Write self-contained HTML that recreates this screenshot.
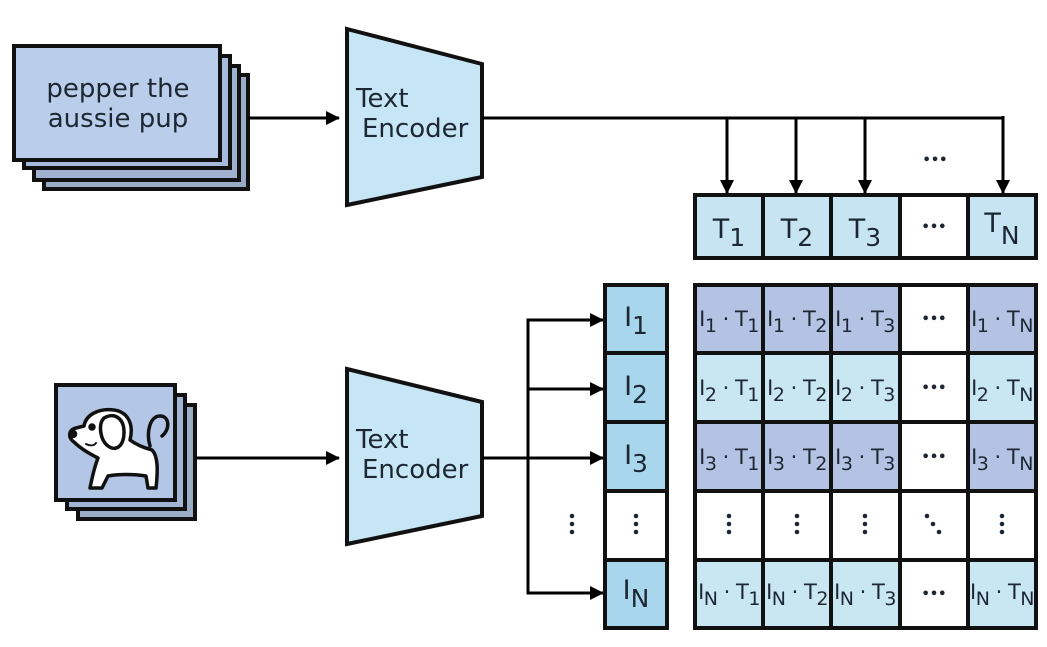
<!DOCTYPE html>
<html><head><meta charset="utf-8"><style>
html,body{margin:0;padding:0;background:#fff;width:1047px;height:647px;overflow:hidden}
text{font-family:"DejaVu Sans","Liberation Sans",sans-serif;fill:#1d2733}
</style></head><body>
<svg width="1047" height="647" viewBox="0 0 1047 647" xmlns="http://www.w3.org/2000/svg">
<defs>
<marker id="ah" viewBox="0 0 14 14" markerWidth="14" markerHeight="14" refX="13" refY="7" orient="auto" markerUnits="userSpaceOnUse">
<path d="M0,0 L14,7 L0,14 z" fill="#000"/></marker>
</defs>
<g stroke="#111" stroke-width="4">
<rect x="44" y="75" width="204" height="114" fill="#9aabc6"/>
<rect x="34" y="66" width="205" height="114" fill="#9fb1cf"/>
<rect x="24" y="56" width="206" height="112" fill="#a7badb"/>
<rect x="14" y="46" width="206" height="114" fill="#bacdea"/>
<polygon points="347,29 482,64 482,177 347,205" fill="#c7e6f5"/>
<polygon points="347,369 482,402 482,516 347,544" fill="#c7e6f5"/>
<rect x="78" y="405" width="117" height="114" fill="#9aabc6"/>
<rect x="67" y="395" width="118" height="114" fill="#a3b5d4"/>
<rect x="56" y="385" width="119" height="115" fill="#b3c6e6"/>
</g>
<!-- dog -->
<g stroke="#111" stroke-width="3.5" fill="#fff" stroke-linejoin="round" stroke-linecap="round">
<path d="M150,446 C146,432 150,416 160,416 C170,416 170,430 162,436" fill="none"/>
<path d="M84,426 C86,414 100,408 114,410 C128,412 134,424 130,440 C138,446 146,448 152,450 C158,456 158,470 156,488 L148,488 L146,476 C134,474 118,474 108,476 L102,488 L90,488 C92,478 94,468 98,458 C90,454 80,448 74,442 C68,438 68,430 76,428 Z"/>
<path d="M104,418 C114,412 124,418 124,432 C124,446 116,452 108,446 C100,440 98,424 104,418 Z"/>
<circle cx="73" cy="434" r="2.5" fill="#111"/>
<circle cx="92" cy="427" r="2" fill="#111"/>
<path d="M86,444 C90,446 94,446 96,443" fill="none" stroke-width="2"/>
</g>
<text x="118" y="97" font-size="26" text-anchor="middle">pepper the</text>
<text x="118" y="127" font-size="26" text-anchor="middle">aussie pup</text>
<text x="356" y="107" font-size="26">Text</text>
<text x="362" y="137" font-size="26">Encoder</text>
<text x="356" y="448" font-size="26">Text</text>
<text x="362" y="478" font-size="26">Encoder</text>
<g stroke="#000" stroke-width="3" fill="none">
<line x1="248" y1="118" x2="339" y2="118" marker-end="url(#ah)"/>
<polyline points="482,118 1003,118"/>
<line x1="727" y1="117" x2="727" y2="193" marker-end="url(#ah)"/>
<line x1="796" y1="117" x2="796" y2="193" marker-end="url(#ah)"/>
<line x1="865" y1="117" x2="865" y2="193" marker-end="url(#ah)"/>
<line x1="1003" y1="116" x2="1003" y2="193" marker-end="url(#ah)"/>
<line x1="196" y1="458" x2="339" y2="458" marker-end="url(#ah)"/>
<line x1="482" y1="458" x2="603" y2="458" marker-end="url(#ah)"/>
<polyline points="590,320 528,320 528,593 590,593"/>
<line x1="528" y1="320" x2="603" y2="320" marker-end="url(#ah)"/>
<line x1="528" y1="389" x2="603" y2="389" marker-end="url(#ah)"/>
<line x1="528" y1="593" x2="603" y2="593" marker-end="url(#ah)"/>
</g>
<text x="935" y="164" font-size="13" text-anchor="middle" font-weight="bold">•••</text>
<g fill="#1d2733">
<circle cx="572" cy="516" r="2.3"/><circle cx="572" cy="524" r="2.3"/><circle cx="572" cy="532" r="2.3"/>
</g>
<g stroke="#111" stroke-width="4">
<rect x="695" y="195" width="341" height="63" fill="#c7e4f2"/>
<rect x="900" y="195" width="68" height="63" fill="#fff"/>
<line x1="763" y1="195" x2="763" y2="258"/><line x1="831" y1="195" x2="831" y2="258"/>
</g>
<g font-size="27" text-anchor="middle">
<text x="729" y="238">T<tspan font-size="25" dy="8">1</tspan></text>
<text x="797" y="238">T<tspan font-size="25" dy="8">2</tspan></text>
<text x="865" y="238">T<tspan font-size="25" dy="8">3</tspan></text>
<text x="934" y="231" font-size="13" font-weight="bold">•••</text>
<text x="1002" y="232">T<tspan font-size="25" dy="12">N</tspan></text>
</g>
<g stroke="#111" stroke-width="4">
<rect x="605" y="285" width="62" height="343" fill="#a8d6ec"/>
<rect x="605" y="491" width="62" height="69" fill="#fff"/>
<line x1="605" y1="353" x2="667" y2="353"/><line x1="605" y1="422" x2="667" y2="422"/>
</g>
<g font-size="27" text-anchor="middle">
<text x="636" y="326">I<tspan font-size="25" dy="8">1</tspan></text>
<text x="636" y="395">I<tspan font-size="25" dy="8">2</tspan></text>
<text x="636" y="464">I<tspan font-size="25" dy="8">3</tspan></text>
<text x="636" y="599">I<tspan font-size="25" dy="8">N</tspan></text>
</g>
<g stroke="#111" stroke-width="4">
<rect x="695" y="285" width="341" height="343" fill="#fff"/>
<g fill="#b4c3e3">
<rect x="695" y="285" width="205" height="68"/><rect x="968" y="285" width="68" height="68"/>
<rect x="695" y="422" width="205" height="69"/><rect x="968" y="422" width="68" height="69"/>
</g>
<g fill="#c9e6f3">
<rect x="695" y="353" width="205" height="69"/><rect x="968" y="353" width="68" height="69"/>
<rect x="695" y="560" width="205" height="68"/><rect x="968" y="560" width="68" height="68"/>
</g>
<line x1="763" y1="285" x2="763" y2="628"/><line x1="831" y1="285" x2="831" y2="628"/>
<line x1="900" y1="285" x2="900" y2="628"/><line x1="968" y1="285" x2="968" y2="628"/>
<line x1="695" y1="353" x2="1036" y2="353"/><line x1="695" y1="422" x2="1036" y2="422"/>
<line x1="695" y1="491" x2="1036" y2="491"/><line x1="695" y1="560" x2="1036" y2="560"/>
</g>
<g font-size="21" text-anchor="middle" letter-spacing="-0.5">
<text x="729" y="326">I<tspan font-size="19" dy="6">1</tspan><tspan dy="-6"> · T</tspan><tspan font-size="19" dy="6">1</tspan></text>
<text x="797" y="326">I<tspan font-size="19" dy="6">1</tspan><tspan dy="-6"> · T</tspan><tspan font-size="19" dy="6">2</tspan></text>
<text x="865" y="326">I<tspan font-size="19" dy="6">1</tspan><tspan dy="-6"> · T</tspan><tspan font-size="19" dy="6">3</tspan></text>
<text x="1002" y="326">I<tspan font-size="19" dy="6">1</tspan><tspan dy="-6"> · T</tspan><tspan font-size="19" dy="6">N</tspan></text>
<text x="729" y="395">I<tspan font-size="19" dy="6">2</tspan><tspan dy="-6"> · T</tspan><tspan font-size="19" dy="6">1</tspan></text>
<text x="797" y="395">I<tspan font-size="19" dy="6">2</tspan><tspan dy="-6"> · T</tspan><tspan font-size="19" dy="6">2</tspan></text>
<text x="865" y="395">I<tspan font-size="19" dy="6">2</tspan><tspan dy="-6"> · T</tspan><tspan font-size="19" dy="6">3</tspan></text>
<text x="1002" y="395">I<tspan font-size="19" dy="6">2</tspan><tspan dy="-6"> · T</tspan><tspan font-size="19" dy="6">N</tspan></text>
<text x="729" y="464">I<tspan font-size="19" dy="6">3</tspan><tspan dy="-6"> · T</tspan><tspan font-size="19" dy="6">1</tspan></text>
<text x="797" y="464">I<tspan font-size="19" dy="6">3</tspan><tspan dy="-6"> · T</tspan><tspan font-size="19" dy="6">2</tspan></text>
<text x="865" y="464">I<tspan font-size="19" dy="6">3</tspan><tspan dy="-6"> · T</tspan><tspan font-size="19" dy="6">3</tspan></text>
<text x="1002" y="464">I<tspan font-size="19" dy="6">3</tspan><tspan dy="-6"> · T</tspan><tspan font-size="19" dy="6">N</tspan></text>
<text x="729" y="599">I<tspan font-size="19" dy="6">N</tspan><tspan dy="-6"> · T</tspan><tspan font-size="19" dy="6">1</tspan></text>
<text x="797" y="599">I<tspan font-size="19" dy="6">N</tspan><tspan dy="-6"> · T</tspan><tspan font-size="19" dy="6">2</tspan></text>
<text x="865" y="599">I<tspan font-size="19" dy="6">N</tspan><tspan dy="-6"> · T</tspan><tspan font-size="19" dy="6">3</tspan></text>
<text x="1002" y="599">I<tspan font-size="19" dy="6">N</tspan><tspan dy="-6"> · T</tspan><tspan font-size="19" dy="6">N</tspan></text>
</g>
<g font-size="13" text-anchor="middle" font-weight="bold">
<text x="934" y="323">•••</text>
<text x="934" y="392">•••</text>
<text x="934" y="461">•••</text>
<text x="934" y="598">•••</text>
</g>
<g fill="#1d2733">
<circle cx="636" cy="516" r="2.3"/><circle cx="636" cy="524" r="2.3"/><circle cx="636" cy="532" r="2.3"/>
<circle cx="729" cy="516" r="2.3"/><circle cx="729" cy="524" r="2.3"/><circle cx="729" cy="532" r="2.3"/>
<circle cx="797" cy="516" r="2.3"/><circle cx="797" cy="524" r="2.3"/><circle cx="797" cy="532" r="2.3"/>
<circle cx="865" cy="516" r="2.3"/><circle cx="865" cy="524" r="2.3"/><circle cx="865" cy="532" r="2.3"/>
<circle cx="1002" cy="516" r="2.3"/><circle cx="1002" cy="524" r="2.3"/><circle cx="1002" cy="532" r="2.3"/>
<circle cx="927" cy="516" r="2.3"/><circle cx="933" cy="524" r="2.3"/><circle cx="939" cy="532" r="2.3"/>
</g>
</svg>
</body></html>
